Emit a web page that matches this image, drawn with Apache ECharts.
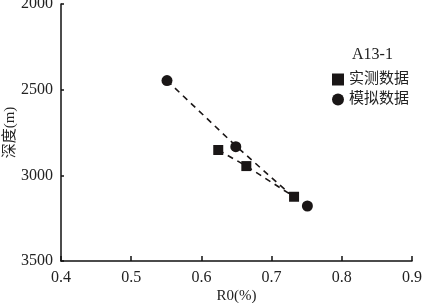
<!DOCTYPE html>
<html>
<head>
<meta charset="utf-8">
<script src="https://cdn.jsdelivr.net/npm/echarts@6/dist/echarts.min.js"></script>
<style>
    html, body { margin: 0; padding: 0; background: #fff; }
    #chart { width: 425px; height: 303px; }
</style>
</head>
<body>
<div id="chart"></div>
<script>
// 实测数据 (measured)
const measuredR0 = [0.624, 0.664, 0.732]
const measuredDepth = [2852, 2946, 3125]
// 模拟数据 (simulated)
const simR0 = [0.551, 0.649, 0.751]
const simDepth = [2447, 2833, 3179]
// dashed trend line through the simulated points
const simTrendR0 = [0.551, 0.649, 0.727]
const simTrendDepth = [2447, 2828, 3112]

const xTicks = [0.4, 0.5, 0.6, 0.7, 0.8, 0.9]
const yTicks = [2000, 2500, 3000, 3500]

const serif = '"Liberation Serif", "Noto Sans CJK SC", serif'
const pairs = (xs, ys) => xs.map((x, i) => [x, ys[i]])

const chart = echarts.init(document.getElementById('chart'))

const option = {
    animation: false,
    textStyle: { fontFamily: serif },
    grid: {
        left: 61,
        right: 13,
        top: 4,
        bottom: 42,
        containLabel: false,
        outerBoundsMode: 'none',
    },
    title: {
        text: 'A13-1',
        left: 347,
        top: 42,
        textStyle: {
            fontFamily: serif,
            fontSize: 16,
            fontWeight: 'normal',
            color: '#222',
        },
    },
    legend: {
        data: [
            { name: '实测数据', icon: 'rect' },
            { name: '模拟数据', icon: 'circle' },
        ],
        orient: 'vertical',
        left: 327,
        top: 67,
        itemWidth: 12,
        itemHeight: 12,
        itemGap: 5,
        textStyle: {
            fontFamily: serif,
            fontSize: 15,
            color: '#222',
        },
    },
    xAxis: {
        type: 'value',
        min: xTicks[0],
        max: xTicks[xTicks.length - 1],
        interval: 0.1,
        name: 'R0(%)',
        nameLocation: 'middle',
        nameGap: 28,
        nameMoveOverlap: false,
        nameTextStyle: { fontFamily: serif, fontSize: 15, color: '#222' },
        axisLine: { lineStyle: { color: '#111', width: 1.5 } },
        axisTick: { inside: true, length: 5, lineStyle: { color: '#111', width: 1.5 } },
        axisLabel: {
            fontFamily: serif,
            fontSize: 16,
            color: '#222',
            margin: 9,
            formatter: v => v.toFixed(1),
        },
        splitLine: { show: false },
    },
    yAxis: {
        type: 'value',
        inverse: true,
        min: yTicks[0],
        max: yTicks[yTicks.length - 1],
        interval: 500,
        name: '深度(m)',
        nameLocation: 'middle',
        nameGap: 43,
        nameMoveOverlap: false,
        nameTextStyle: { fontFamily: serif, fontSize: 15, color: '#222' },
        axisLine: { lineStyle: { color: '#111', width: 1.5 } },
        axisTick: { inside: true, length: 3, lineStyle: { color: '#111', width: 1.5 } },
        axisLabel: {
            fontFamily: serif,
            fontSize: 16,
            color: '#222',
            margin: 8,
            formatter: v => String(v),
        },
        splitLine: { show: false },
    },
    series: [
        {
            name: '实测数据',
            type: 'line',
            data: pairs(measuredR0, measuredDepth),
            symbol: 'rect',
            symbolSize: 10,
            itemStyle: { color: '#1a1616', opacity: 1 },
            lineStyle: { color: '#1a1616', width: 1.6, type: [6, 5] },
        },
        {
            name: '模拟数据',
            type: 'scatter',
            data: pairs(simR0, simDepth),
            symbol: 'circle',
            symbolSize: 11,
            itemStyle: { color: '#1a1616', opacity: 1 },
        },
        {
            name: 'simTrend',
            type: 'line',
            silent: true,
            z: 1,
            data: pairs(simTrendR0, simTrendDepth),
            symbol: 'none',
            lineStyle: { color: '#1a1616', width: 1.6, type: [6, 5] },
        },
    ],
}

chart.setOption(option)
</script>
</body>
</html>
